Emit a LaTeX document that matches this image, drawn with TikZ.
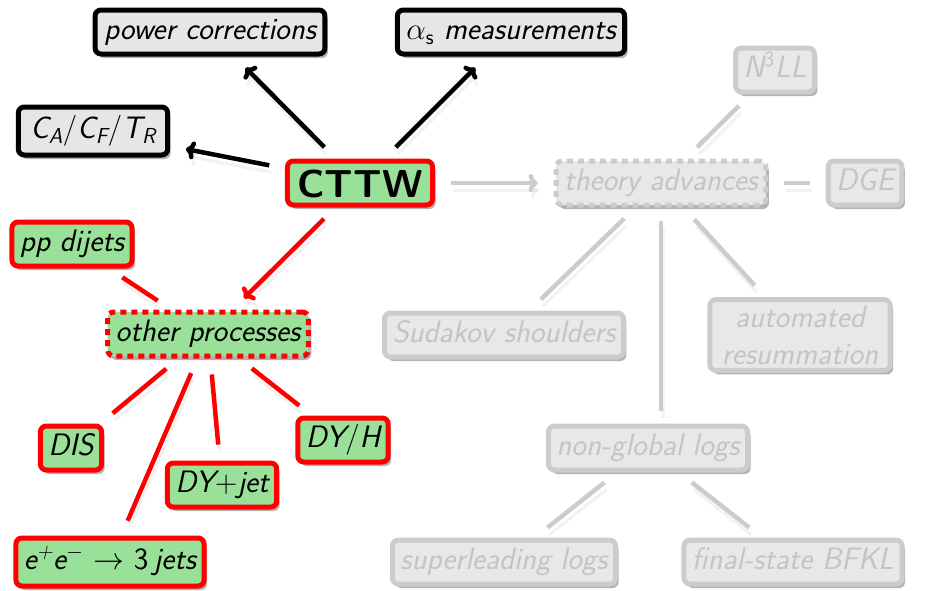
\RequirePackage{fix-cm}
\documentclass[tikz,border=0pt]{standalone}
\usepackage{fontspec}
\usetikzlibrary{arrows.meta,shadows}
\definecolor{nodegreen}{RGB}{153,224,153}
\definecolor{boxgray}{RGB}{230,230,230}
\definecolor{faded}{RGB}{204,204,204}
\definecolor{fadedtext}{RGB}{196,196,196}
\definecolor{fadedfill}{RGB}{232,232,232}
\tikzset{
  box/.style={rounded corners=6pt, line width=5pt, inner xsep=8pt, inner ysep=2pt,
    minimum height=44pt,
    drop shadow={shadow xshift=3pt, shadow yshift=-4pt, opacity=0.3, fill=black}},
  onebox/.style={box, text height=21pt, text depth=6pt},
  blacknode/.style={onebox, draw=black, fill=boxgray},
  greennode/.style={onebox, draw=red, fill=nodegreen},
  fadednode/.style={onebox, draw=faded, fill=fadedfill, text=fadedtext},
  dashedborder/.style={dash pattern=on 6pt off 5pt},
  lineshadow/.style={preaction={draw=black, opacity=0.05, line width=3pt,
    transform canvas={xshift=2pt, yshift=-7pt}}},
  conn/.style={line width=4.5pt, shorten <=16pt, shorten >=16pt, lineshadow},
  tip/.style={-{To[length=9pt,width=18pt]}},
  blk/.style={conn, draw=black, tip},
  redarrow/.style={conn, draw=red, tip},
  redline/.style={conn, draw=red},
  fadedarrow/.style={conn, draw=faded, tip},
  fadedline/.style={conn, draw=faded},
}
\begin{document}
\begin{tikzpicture}[x=1pt, y=-1pt, font=\sffamily\itshape\fontsize{31}{37}\selectfont]
\useasboundingbox (0,0) rectangle (931,590);
% active part
\node[blacknode, inner xsep=9pt] (pc) at (210,32) {power corrections};
\node[blacknode, inner xsep=9pt] (as) at (511,32) {$\alpha$\textsubscript{\upshape s} measurements};
\node[blacknode, inner xsep=12pt, minimum height=48pt] (ca) at (93,131) {C\textsubscript{A}$/$C\textsubscript{F}$/$T\textsubscript{R}};
\node[greennode, font=\sffamily\bfseries\fontsize{39}{44}\selectfont,
  text height=28pt, text depth=0pt, inner xsep=10pt] (cttw) at (360,183) {CTTW};
\node[greennode] (pp) at (72,244) {pp dijets};
\node[greennode, dashedborder] (op) at (208,334) {other processes};
\node[greennode] (dis) at (71,448) {DIS};
\node[greennode] (dyj) at (222,485) {DY{\upshape +}jet};
\node[greennode] (dyh) at (343,440) {DY$/$H};
\node[greennode, minimum height=48pt] (ee) at (110,562) {e\textsuperscript{+}e\textsuperscript{$-$} $\rightarrow$ {\upshape 3}\,jets};
% faded part
\node[fadednode, dashedborder] (th) at (661,183) {theory advances};
\node[fadednode] (n3) at (775,70) {N\textsuperscript{\upshape 3}LL};
\node[fadednode] (dge) at (865,183) {DGE};
\node[fadednode] (sud) at (504,335) {Sudakov shoulders};
\node[box, draw=faded, fill=fadedfill, text=fadedtext, align=center, inner xsep=12pt, inner ysep=6pt] (auto) at (800,335) {automated\\resummation};
\node[fadednode] (ngl) at (648,448) {non-global logs};
\node[fadednode] (sl) at (504,562) {superleading logs};
\node[fadednode] (bfkl) at (793,562) {final-state BFKL};
% connectors
\draw[blk] (cttw) -- (pc);
\draw[blk] (cttw) -- (as);
\draw[blk] (cttw) -- (ca);
\draw[redarrow] (cttw) -- (op);
\draw[fadedarrow] (cttw) -- (th);
\draw[redline] (pp) -- (op);
\draw[redline] (op) -- (dis);
\draw[redline] (op) -- (ee);
\draw[redline] (op) -- (dyj);
\draw[redline] (op) -- (dyh);
\draw[fadedline] (th) -- (n3);
\draw[fadedline] (th) -- (dge);
\draw[fadedline] (th) -- (sud);
\draw[fadedline, shorten <=13pt, shorten >=13pt] (th.south) -- (th.south |- ngl.north);
\draw[fadedline] (th) -- (auto);
\draw[fadedline] (ngl) -- (sl);
\draw[fadedline] (ngl) -- (bfkl);
\end{tikzpicture}
\end{document}
